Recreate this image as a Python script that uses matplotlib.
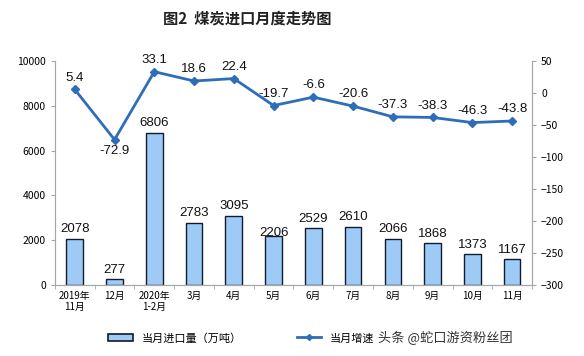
import matplotlib
matplotlib.use("Agg")
import matplotlib.pyplot as plt
import numpy as np
from matplotlib.lines import Line2D
from matplotlib.patches import Patch

plt.rcParams["font.family"] = ["Noto Sans CJK SC", "DejaVu Sans"]

months = ["2019年\n11月", "12月", "2020年\n1-2月", "3月", "4月", "5月",
          "6月", "7月", "8月", "9月", "10月", "11月"]
imports = [2078, 277, 6806, 2783, 3095, 2206, 2529, 2610, 2066, 1868, 1373, 1167]
growth = [5.4, -72.9, 33.1, 18.6, 22.4, -19.7, -6.6, -20.6, -37.3, -38.3, -46.3, -43.8]

bar_face = "#9DCBF5"
bar_edge = "#111A2E"
line_color = "#2E6DB8"
axis_grey = "#A6A6A6"
label_font = ["Liberation Sans", "DejaVu Sans"]

fig = plt.figure(figsize=(5.84, 3.56), dpi=100)
ax = fig.add_axes([0.094, 0.199, 0.817, 0.630])
ax2 = ax.twinx()

x = np.arange(len(months))
ax.bar(x, imports, width=0.42, color=bar_face, edgecolor=bar_edge, linewidth=1.0, zorder=2)
for xi, v in zip(x, imports):
    # the 5月 label sits down on its bar in the original
    off = -150 if xi == 5 else 150
    ax.text(xi, v + off, f"{v}", ha="center", va="bottom", fontsize=9.5,
            family=label_font, color="#111111", zorder=4)

ax.set_xlim(-0.5, len(months) - 0.5)
ax.set_ylim(0, 10000)
ax.set_yticks(range(0, 10001, 2000))
ax.set_xticks(x)
ax.set_xticklabels(months, fontsize=7)
ax.set_xticks(np.arange(-0.5, len(months), 1), minor=True)
ax.tick_params(axis="x", which="major", length=0, pad=4)
ax.tick_params(axis="x", which="minor", length=3, color=axis_grey)
ax.tick_params(axis="y", labelsize=7.5, length=3, color=axis_grey)

ax2.plot(x, growth, color=line_color, linewidth=2, marker="D", markersize=4, zorder=3)
for xi, v in zip(x, growth):
    if xi == 1:
        ax2.text(xi, v - 9, f"{v}", ha="center", va="top", fontsize=9.5,
                 family=label_font, color="#111111")
    else:
        ax2.text(xi, v + 9, f"{v}", ha="center", va="bottom", fontsize=9.5,
                 family=label_font, color="#111111")
ax2.set_ylim(-300, 50)
ax2.set_yticks(range(-300, 51, 50))
ax2.tick_params(axis="y", labelsize=7.5, length=3, color=axis_grey)

for a in (ax, ax2):
    a.spines["top"].set_visible(False)
    for s in ("left", "right", "bottom"):
        a.spines[s].set_color(axis_grey)
        a.spines[s].set_linewidth(0.8)

fig.text(0.423, 0.949, "图2  煤炭进口月度走势图", ha="center", va="center",
         fontsize=11, fontweight="bold", color="#222222")

handles = [Patch(facecolor=bar_face, edgecolor=bar_edge, linewidth=1.2)]
fig.legend(handles, ["当月进口量（万吨）"], loc="center", bbox_to_anchor=(0.30, 0.05),
           frameon=False, fontsize=8, handlelength=2.2, handleheight=0.6)
handles2 = [Line2D([0], [0], color=line_color, linewidth=2, marker="D", markersize=3)]
fig.legend(handles2, ["当月增速"], loc="center", bbox_to_anchor=(0.575, 0.05),
           frameon=False, fontsize=8, handlelength=2.2)

fig.text(0.762, 0.05, "头条 @蛇口游资粉丝团", ha="center", va="center",
         fontsize=9.5, color="#333333")

fig.savefig("out.png", dpi=100)
